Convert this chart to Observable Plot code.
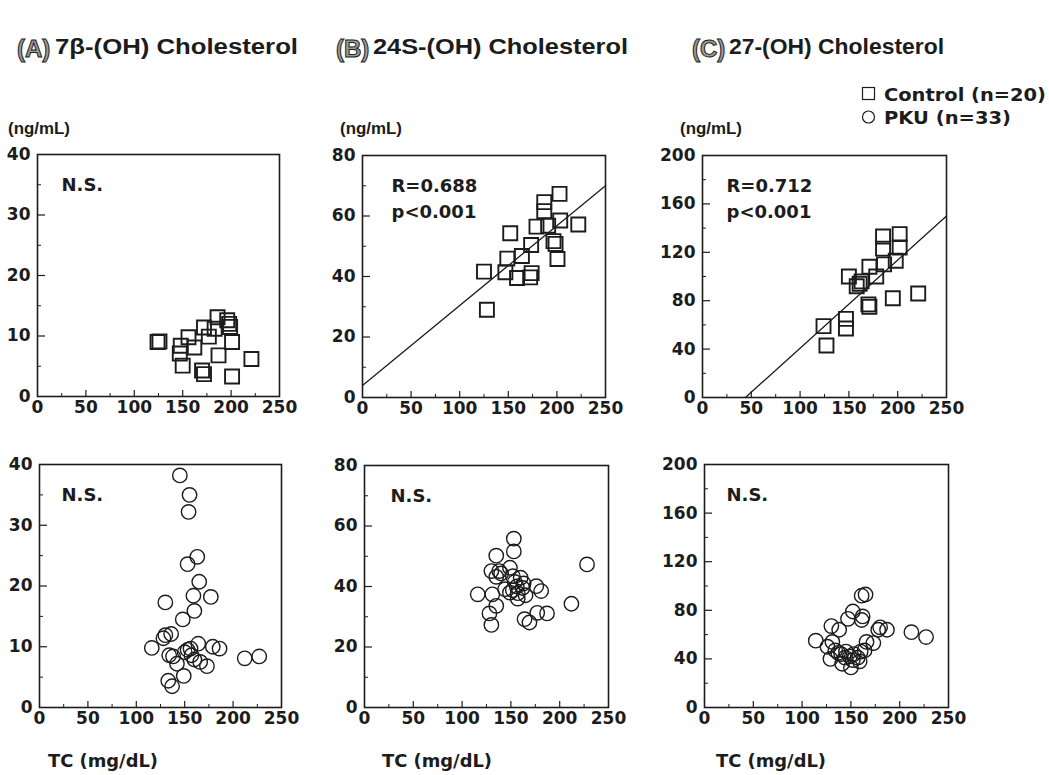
<!DOCTYPE html>
<html><head><meta charset="utf-8">
<script src="https://cdn.jsdelivr.net/npm/d3@7"></script>
<script src="https://cdn.jsdelivr.net/npm/@observablehq/plot@0.6"></script>
<style>
body{margin:0;background:#fff;}
#root{position:relative;width:1049px;height:775px;overflow:hidden;background:#fff;}
.panel{position:absolute;}
#overlay{position:absolute;left:0;top:0;}
</style></head><body><div id="root"></div>
<script>
// ---------- data ----------
const xTicks = [0, 50, 100, 150, 200, 250];
const xMinor = [25, 75, 125, 175, 225];
const yTicksA = [0, 10, 20, 30, 40];
const yMinorA = [5, 15, 25, 35];
const yTicksB = [0, 20, 40, 60, 80];
const yMinorB = [10, 30, 50, 70];
const yTicksC = [0, 40, 80, 120, 160, 200];
const yMinorC = [20, 60, 100, 140, 180];

// Control (n=20), top row
const ctrlA_tc = [124,126,148,147,150,156,162,172,177,186,187,196,198,199,201,170,172,201,221,183];
const ctrlA_7b = [9.0,9.1,8.4,7.1,5.1,9.8,8.1,11.4,9.9,13.1,6.8,12.6,12.0,11.5,9.0,4.3,3.7,3.3,6.2,11.2];
const ctrlB_tc = [125,128,152,149,147,159,164,173.5,174,172.5,179,187,187,191,196.5,198.6,200.6,202.7,203.4,222];
const ctrlB_24s = [41.6,29.0,54.3,45.9,41.4,39.5,46.8,50.4,41.1,39.7,56.5,64.6,61.6,56.8,51.7,50.8,45.8,67.3,58.5,57.2];
const ctrlC_tc = [124,127,147,147,150,158,161,163,171,170,171,178,185,185,186,195,198,202,202,221];
const ctrlC_27 = [59,43,65,57,100,92,94,96,108,77,75,100,133,123,110,82,113,135,124,86];

// PKU (n=33), bottom row
const pkuA_tc = [145,155,154,163,153,165,159,177,130,160,148,128,130,136,116,134,138,142,133,137,149,150,153,156,157,164,160,166,173,179,186,212,227];
const pkuA_7b = [38.2,35.0,32.2,24.8,23.6,20.7,18.4,18.2,17.3,15.9,14.5,11.4,11.9,12.1,9.8,8.6,8.4,7.2,4.4,3.5,5.2,9.1,9.5,9.7,8.6,10.5,7.9,7.5,6.8,10.0,9.7,8.1,8.4];
const pkuB_tc = [153,153,135,228,130,138,135,140,149,152,160,163,156,152,149,157,162,144,176,181,116,131,165,157,135,128,130,164,169,177,187,212,154];
const pkuB_24s = [55.8,51.6,50.2,47.3,45.1,45.1,43.2,44.3,46.2,43.4,42.9,41.0,40.0,38.8,38.0,37.8,39.5,39.1,40.1,38.5,37.4,37.4,37.1,36.0,33.6,31.1,27.3,29.2,28.1,31.3,31.1,34.3,41.5];
const pkuC_tc = [161,165,152,147,161,162,130,138,178,180,187,212,227,114,166,173,126,131,134,129,140,145,149,153,157,160,164,141,150,159,137,152,144];
const pkuC_27 = [92,93,79,73,72,75,67,64,64,66,64,62,58,55,54,53,50,54,47,40,44,46,42,44,41,46,47,36,33,38,45,39,41];

// Regression lines (endpoints)
const regB_tc = [0, 250];
const regB_v = [4, 70];
const regC_tc = [44, 250];
const regC_v = [0, 150];

const notes = {A1: "N.S.", B1: "R=0.688\np<0.001", C1: "R=0.712\np<0.001", A2: "N.S.", B2: "N.S.", C2: "N.S."};

// ---------- drawing ----------
const root = document.getElementById("root");
const INK = "#1c1c1c";

function zip(xs, ys) { return xs.map((x, i) => ({tc: x, v: ys[i]})); }

function panel({fl, ft, fw, fh, xs, ys, yMax, yTicks, yMinor, symbol, r, sw, note, noteDx, regX, regY}) {
  const mL = 48, mT = 20, mR = 26, mB = 34;
  const marks = [
    Plot.ruleX(xTicks.slice(1, -1), {x: d => d, insetTop: fh - 6, stroke: INK, strokeWidth: 1.2}),
    Plot.ruleX(xMinor, {x: d => d, insetTop: fh - 3, stroke: INK, strokeWidth: 1}),
    Plot.ruleY(yTicks.slice(1, -1), {y: d => d, insetRight: fw - 8, stroke: INK, strokeWidth: 1.2}),
    Plot.ruleY(yMinor, {y: d => d, insetRight: fw - 4, stroke: INK, strokeWidth: 1}),
    Plot.frame({stroke: INK, strokeWidth: 1.6}),
    Plot.axisX({ticks: xTicks, tickSize: 0, tickPadding: 4, tickFormat: d => String(d), label: null}),
    Plot.axisY({ticks: yTicks, tickSize: 0, tickPadding: 7, tickFormat: d => String(d), label: null}),
  ];
  if (regX) marks.push(Plot.line(zip(regX, regY), {x: "tc", y: "v", stroke: INK, strokeWidth: 1.3}));
  marks.push(Plot.dot(zip(xs, ys), {x: "tc", y: "v", symbol, r, stroke: INK, strokeWidth: sw, fill: "none"}));
  marks.push(Plot.text([note], {frameAnchor: "top-left", dx: noteDx, dy: 18, lineAnchor: "top", textAnchor: "start", fontSize: 18, fontWeight: "bold", lineHeight: 1.45, fill: INK}));
  const svg = Plot.plot({
    width: fw + mL + mR, height: fh + mT + mB,
    marginLeft: mL, marginTop: mT, marginRight: mR, marginBottom: mB,
    x: {domain: [0, 250]}, y: {domain: [0, yMax]},
    style: {fontFamily: "DejaVu Sans", fontSize: "17px", fontWeight: "bold", color: INK, background: "transparent"},
    marks
  });
  svg.classList.add("panel");
  svg.style.left = (fl - mL) + "px";
  svg.style.top = (ft - mT) + "px";
  root.appendChild(svg);
}

const sq = {symbol: "square", r: 7.9, sw: 1.9};
const ci = {symbol: "circle", r: 7.2, sw: 1.4};

panel({fl: 37, ft: 154, fw: 242, fh: 242, xs: ctrlA_tc, ys: ctrlA_7b, yMax: 40, yTicks: yTicksA, yMinor: yMinorA, ...sq, note: notes.A1, noteDx: 24});
panel({fl: 362, ft: 155, fw: 243, fh: 242, xs: ctrlB_tc, ys: ctrlB_24s, yMax: 80, yTicks: yTicksB, yMinor: yMinorB, ...sq, note: notes.B1, noteDx: 29, regX: regB_tc, regY: regB_v});
panel({fl: 702, ft: 155, fw: 244, fh: 242, xs: ctrlC_tc, ys: ctrlC_27, yMax: 200, yTicks: yTicksC, yMinor: yMinorC, ...sq, note: notes.C1, noteDx: 24, regX: regC_tc, regY: regC_v});
panel({fl: 39, ft: 464, fw: 242, fh: 243, xs: pkuA_tc, ys: pkuA_7b, yMax: 40, yTicks: yTicksA, yMinor: yMinorA, ...ci, note: notes.A2, noteDx: 22});
panel({fl: 364, ft: 465, fw: 244, fh: 242, xs: pkuB_tc, ys: pkuB_24s, yMax: 80, yTicks: yTicksB, yMinor: yMinorB, ...ci, note: notes.B2, noteDx: 26});
panel({fl: 704, ft: 464, fw: 244, fh: 243, xs: pkuC_tc, ys: pkuC_27, yMax: 200, yTicks: yTicksC, yMinor: yMinorC, ...ci, note: notes.C2, noteDx: 22});

// ---------- titles, units, legend, x labels ----------
const titles = [
  {letter: "(A)", lx: 17, rest: "7β-(OH) Cholesterol", rx: 55, rw: 243},
  {letter: "(B)", lx: 336, rest: "24S-(OH) Cholesterol", rx: 373, rw: 255},
  {letter: "(C)", lx: 692, rest: "27-(OH) Cholesterol", rx: 729, rw: 215}
];
const unitX = [8, 340, 680];
const tcX = [48, 382, 716];
const NS = "http://www.w3.org/2000/svg";
const ov = document.createElementNS(NS, "svg");
ov.setAttribute("id", "overlay");
ov.setAttribute("width", 1049); ov.setAttribute("height", 775);
function setAttrs(el, attrs) { for (const k in attrs) el.setAttribute(k, attrs[k]); return el; }
function txt(s, x, y, attrs) {
  const t = document.createElementNS(NS, "text");
  t.textContent = s;
  t.setAttribute("x", x); t.setAttribute("y", y);
  setAttrs(t, attrs);
  ov.appendChild(t);
  return t;
}
for (const t of titles) {
  txt(t.letter, t.lx, 57, {"font-family": "Liberation Sans", "font-size": 24, "font-weight": "bold", fill: "#9a9a9a", stroke: "#222", "stroke-width": 1});
  txt(t.rest, t.rx, 54, {"font-family": "Liberation Sans", "font-size": 22, "font-weight": "bold", fill: INK, textLength: t.rw, lengthAdjust: "spacingAndGlyphs"});
}
for (const x of unitX) txt("(ng/mL)", x, 134, {"font-family": "Liberation Sans", "font-size": 17, "font-weight": "bold", fill: INK, textLength: 62, lengthAdjust: "spacingAndGlyphs"});
for (const x of tcX) txt("TC (mg/dL)", x, 767, {"font-family": "DejaVu Sans", "font-size": 17, "font-weight": "bold", fill: INK, textLength: 110, lengthAdjust: "spacingAndGlyphs"});
// legend
const legend = [{label: "Control (n=20)", shape: "square", y: 94, w: 162}, {label: "PKU (n=33)", shape: "circle", y: 117, w: 127}];
for (const l of legend) {
  if (l.shape === "square") {
    ov.appendChild(setAttrs(document.createElementNS(NS, "rect"), {x: 862.5, y: l.y - 6.5, width: 12, height: 12, fill: "none", stroke: INK, "stroke-width": 1.2}));
  } else {
    ov.appendChild(setAttrs(document.createElementNS(NS, "circle"), {cx: 868.5, cy: l.y, r: 6, fill: "none", stroke: INK, "stroke-width": 1.2}));
  }
  txt(l.label, 884, l.y + 7, {"font-family": "DejaVu Sans", "font-size": 17, "font-weight": "bold", fill: INK, textLength: l.w, lengthAdjust: "spacingAndGlyphs"});
}
root.appendChild(ov);
</script>
</body></html>
